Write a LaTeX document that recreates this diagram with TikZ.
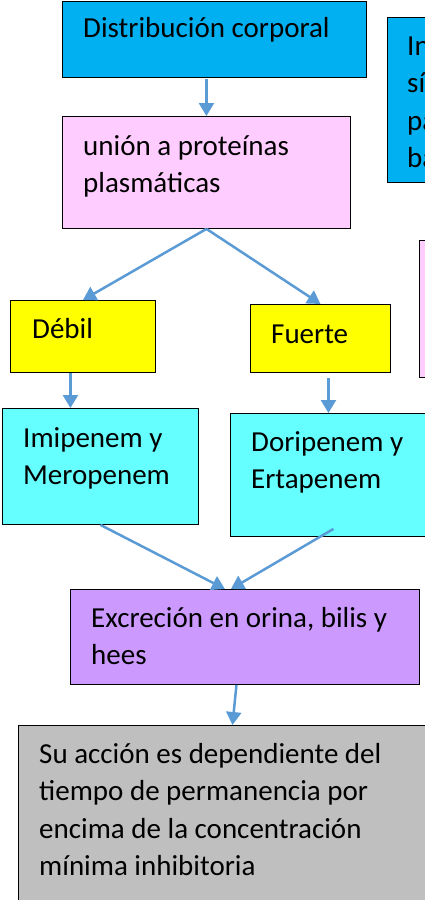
\documentclass[tikz,border=0pt]{standalone}
\usepackage{fontspec}
\setmainfont{Carlito}
\usetikzlibrary{arrows.meta}
\definecolor{azul}{HTML}{00B0F0}
\definecolor{rosa}{HTML}{FFCCFF}
\definecolor{amarillo}{HTML}{FFFF00}
\definecolor{celeste}{HTML}{66FFFF}
\definecolor{lila}{HTML}{CC99FF}
\definecolor{gris}{HTML}{BFBFBF}
\definecolor{flechaazul}{HTML}{5B9BD5}
\begin{document}
\begin{tikzpicture}[x=1pt,y=-1pt]
\tikzstyle{every node}+=[inner sep=0pt]
\tikzstyle{caja}=[draw=black, line width=0.9pt, rectangle, anchor=north west]
\tikzstyle{texto}=[anchor=base west, text width=420pt, align=flush left, font=\fontsize{29}{37.5}\selectfont]
\tikzstyle{flecha}=[draw=flechaazul, line width=2.5pt, -{Triangle[width=15pt,length=13pt]}]
\useasboundingbox (0,0) rectangle (425,900);
\clip (0,0) rectangle (425,900);
\node[caja, fill=azul, minimum width=304, minimum height=76] (dist) at (62,0.5) {};
\node[texto] (tdist) at (83,37) {Distribución corporal};
\node[caja, fill=azul, minimum width=80, minimum height=165] (inhib) at (387,17) {};
\node[texto] (tinhib) at (407,55) {In\\sí\\pa\\ba};
\node[caja, fill=rosa, minimum width=288, minimum height=112] (union) at (62,116) {};
\node[texto] (tunion) at (83,155) {unión a proteínas\\plasmáticas};
\node[caja, fill=rosa, minimum width=50, minimum height=137] (rosader) at (419,240) {};
\node[caja, fill=amarillo, minimum width=145, minimum height=72] (debil) at (10,300) {};
\node[texto] (tdebil) at (32,338) {Débil};
\node[caja, fill=amarillo, minimum width=140, minimum height=68] (fuerte) at (250,304) {};
\node[texto] (tfuerte) at (271,343) {Fuerte};
\node[caja, fill=celeste, minimum width=196, minimum height=116] (imip) at (2,408) {};
\node[texto] (timip) at (23,447) {Imipenem y\\Meropenem};
\node[caja, fill=celeste, minimum width=206, minimum height=123] (dori) at (230,413) {};
\node[texto] (tdori) at (251,451) {Doripenem y\\Ertapenem};
\node[caja, fill=lila, minimum width=349, minimum height=95] (excr) at (70,589) {};
\node[texto] (texcr) at (91,627) {Excreción en orina, bilis y\\hees};
\node[caja, fill=gris, minimum width=440, minimum height=200] (accion) at (18,725) {};
\node[texto] (taccion) at (39,763) {Su acción es dependiente del\\tiempo de permanencia por\\encima de la concentración\\mínima inhibitoria};
\draw[flecha] ([yshift=-2pt]dist.south -| union.north) -- (union.north);
\draw[flecha] (union.south) -- (debil.north);
\draw[flecha] (union.south) -- (fuerte.north);
\draw[flecha] ([xshift=-12.5pt]debil.south) -- ([xshift=-12.5pt]debil.south |- imip.north);
\draw[flecha] ([shift={(8,5)}]fuerte.south) -- ([xshift=8pt]fuerte.south |- dori.north);
\draw[flecha] (imip.south) -- ([xshift=-20pt]excr.north);
\draw[flecha] ([yshift=8pt]dori.south) -- ([xshift=-14pt]excr.north);
\draw[flecha] ([xshift=-8.5pt]excr.south) -- ([xshift=-12.5pt]excr.south |- accion.north);
\end{tikzpicture}
\end{document}
